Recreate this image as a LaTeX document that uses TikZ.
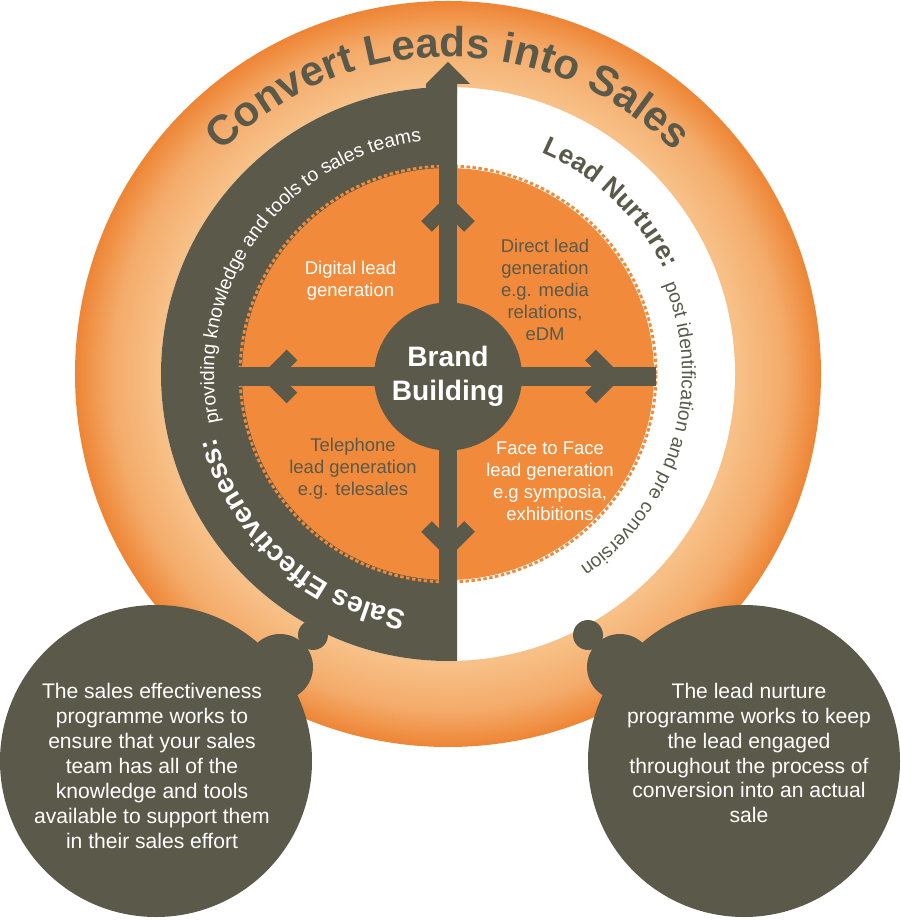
\documentclass[tikz,border=0pt]{standalone}
\usepackage{fontspec}
\setmainfont{Liberation Sans}
\usepackage{xcolor}
\usetikzlibrary{decorations.text,calc}
\definecolor{olive}{HTML}{5A594A}
\definecolor{disc}{HTML}{F18B3B}
\definecolor{ringlight}{HTML}{F7C087}
\definecolor{ringdark}{HTML}{EE8535}
\pgfdeclareradialshading{ringglow}{\pgfpoint{0bp}{0bp}}{color(0bp)=(ringlight); color(19.5bp)=(ringlight); color(22.5bp)=(ringlight!65!ringdark); color(25bp)=(ringdark); color(50bp)=(ringdark)}

\begin{document}
\begin{tikzpicture}[
    quadtext/.style={align=center, font=\fontsize{10.5}{12.5}\selectfont},
    bubbletext/.style={align=center, text=white, font=\fontsize{12}{14.2}\selectfont},
    chevron/.style={draw=olive, line width=0.3cm, line cap=butt, miter limit=10},
    bar/.style={draw=olive, line width=0.37cm},
    arctext/.style={decorate, decoration={text along path, text align=#1}}
]
    \useasboundingbox (-8.96,-10.92) rectangle (9.04,7.48);
    \fill[white] (-8.96,-10.92) rectangle (9.04,7.48);

    % Outer ring
    \shade[shading=ringglow] (0,0) circle (7.46);

    % Half bands
    \fill[white] (0,0) circle (5.74);
    \begin{scope}
        \clip (-6,-6) rectangle (0.18,6);
        \fill[olive] (0,0) circle (5.74);
    \end{scope}
    \fill[olive] (-0.44,5.6) -- (-0.44,5.8) -- (0,6.24) -- (0.44,5.8) -- (0.18,5.8) -- (0.18,5.6) -- cycle;

    % Inner disc
    \fill[disc] (0,0) circle (4.12);
    \draw[disc, line width=1.6pt, dash pattern=on 2pt off 1.4pt] (0,0) circle (4.16);

    % Bars and chevrons
    \coordinate (northend) at (0,4.2);
    \coordinate (southend) at (0,-4.2);
    \coordinate (westend) at (-4.3,-0.05);
    \coordinate (eastend) at (4.16,-0.05);
    \draw[bar] (southend) -- (northend);
    \draw[bar] (westend) -- (eastend);
    \draw[chevron] (-0.43,2.95) -- (0,3.38) -- (0.43,2.95);
    \draw[chevron] (-0.43,-3.05) -- (0,-3.48) -- (0.43,-3.05);
    \draw[chevron] (-3.12,0.38) -- (-3.55,-0.05) -- (-3.12,-0.48);
    \draw[chevron] (2.85,0.38) -- (3.28,-0.05) -- (2.85,-0.48);

    \node[circle, fill=olive, minimum size=2.96cm, inner sep=0pt, text=white, align=center, font=\bfseries\fontsize{16}{19.4}\selectfont] (brand) at (0,-0.05) {Brand\\Building};

    % Quadrant labels
    \node[quadtext, text=white] (digital) at (-1.95,1.86) {Digital lead\\generation};
    \node[quadtext, text=olive] (direct) at (1.94,1.68) {Direct lead\\generation\\e.g. media\\relations,\\eDM};
    \node[quadtext, text=olive] (phone) at (-1.9,-1.9) {Telephone\\lead generation\\e.g. telesales};
    \node[quadtext, text=white] (facetoface) at (2.04,-2.14) {Face to Face\\lead generation\\e.g symposia,\\exhibitions};

    % Texts along the rings
    \path[arctext=center, decoration={text={|\bfseries\fontsize{24}{28}\selectfont\color{olive}|Convert Leads into Sales}}] (180:6.34) arc[start angle=180, end angle=0, radius=6.34];
    \path[arctext=left, decoration={text={|\bfseries\fontsize{16}{19}\selectfont\color{white}|Sales Effectiveness:}}] (-100:4.82) arc[start angle=-100, end angle=-180, radius=4.82];
    \path[arctext=left, decoration={text={|\fontsize{11}{13}\selectfont\color{white}|providing knowledge and tools to sales teams}}] (-168:4.68) arc[start angle=-168, end angle=-275, radius=4.68];
    \path[arctext=left, decoration={text={|\bfseries\fontsize{15}{18}\selectfont\color{olive}|Lead Nurture:}}] (67:4.8) arc[start angle=67, end angle=10, radius=4.8];
    \path[arctext=left, decoration={text={|\fontsize{11}{13}\selectfont\color{olive}|post identification and pre conversion}}] (22.5:4.68) arc[start angle=22.5, end angle=-75, radius=4.68];

    % Thought bubbles
    \fill[olive] (-5.84,-7.74) circle (3.12);
    \fill[olive] (-3.36,-5.86) circle (0.66);
    \fill[olive] (-2.7,-5.22) circle (0.3);
    \fill[olive] (5.92,-7.74) circle (3.12);
    \fill[olive] (3.44,-5.86) circle (0.66);
    \fill[olive] (2.8,-5.22) circle (0.3);

    \node[bubbletext] (salesnote) at (-5.92,-7.84) {The sales effectiveness\\programme works to\\ensure that your sales\\team has all of the\\knowledge and tools\\available to support them\\in their sales effort};
    \node[bubbletext] (nurturenote) at (6.02,-7.58) {The lead nurture\\programme works to keep\\the lead engaged\\throughout the process of\\conversion into an actual\\sale};
\end{tikzpicture}
\end{document}
